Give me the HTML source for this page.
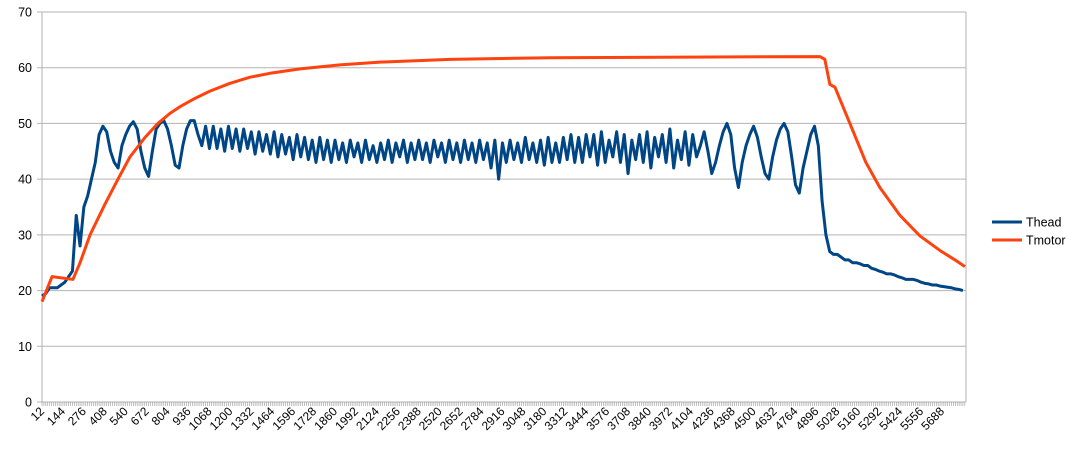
<!DOCTYPE html>
<html><head><meta charset="utf-8"><style>
html,body{margin:0;padding:0;background:#fff;}
svg{display:block;font-family:"Liberation Sans",sans-serif;}
</style></head><body>
<svg id="chart" width="1073" height="449" viewBox="0 0 1073 449">
<g id="grid"></g>
<g id="yaxis"></g>
<g id="xaxis"></g>
<g id="series"></g>
<g id="legend">
  <g>
    <line x1="992" y1="222" x2="1022" y2="222" stroke="#004586" stroke-width="3"/>
    <text x="1026" y="226.5" font-size="12.5" fill="#000">Thead</text>
  </g>
  <g>
    <line x1="992" y1="240" x2="1022" y2="240" stroke="#ff420e" stroke-width="3"/>
    <text x="1026" y="244.5" font-size="12.5" fill="#000">Tmotor</text>
  </g>
</g>
</svg>
<script>
const yTicks = [0,10,20,30,40,50,60,70];
const xTickLabels = [12,144,276,408,540,672,804,936,1068,1200,1332,1464,1596,1728,1860,1992,2124,2256,2388,2520,2652,2784,2916,3048,3180,3312,3444,3576,3708,3840,3972,4104,4236,4368,4500,4632,4764,4896,5028,5160,5292,5424,5556,5688];
const theadStart = 12;
const theadStep = 24;
const theadValues = [19,19.5,20.5,20.5,20.5,21,21.5,22.5,23.5,33.5,28,35,37,40,43,48,49.5,48.5,45,43,42,46,48,49.5,50.3,49,45,42,40.5,45,49,50,50.5,49,46,42.5,42,46,49,50.5,50.5,48,
46,49.5,45.5,49.5,45.5,49,45,49.5,45.5,49,45,49,45.5,48.5,44.5,48.5,45,48,44.5,48.5,44,48,44.5,47.5,43.5,48,44,47.5,43.5,47,43,47.5,43.5,47,43,
47,43.5,46.5,43,47,44,46.5,43,47,43.5,46,43,46.5,43.5,47,43,46.5,44,47,43,46.5,43.5,47,43.5,46.5,43,47,44,46.5,43,47,43.5,46.5,43,47,43.5,46.5,43,47,43.5,46.5,42,47,40,46.5,43,47,43.5,46.5,43,47.5,43.5,46.5,43,47,42.5,47.5,43,46.5,43,47.5,43.5,48,43,47.5,43,48,
44,48,42.5,48.5,43,47,44,48.5,43,48,41,47,43.5,48,43,48.5,42,47.5,44,48,43,49,42,47,43.5,48.5,42.5,48,44,46,
48.5,45,41,43,46,48.5,50,48,42,38.5,43,46,48,49.5,47.5,44,41,40,44,47,49,50,48.5,44,39,37.5,42,45,48,49.5,46,36,30,27,26.5,26.5,
26,25.5,25.5,25,25,24.8,24.5,24.5,24,23.8,23.5,23.3,23,23,22.8,22.5,22.3,22,22,22,21.8,21.5,21.3,21.2,21,21,20.8,20.7,20.6,20.5,20.3,20.2,20];
const tmotorTimes = [12,75,207,252,315,409,491,567,662,743,819,882,977,1071,1198,1324,1450,1639,1891,2143,2585,3215,4918,4949,4981,5013,5107,5208,5296,5423,5549,5675,5770,5833];
const tmotorValues = [18,22.5,22,25,30,35.5,40,44,47.5,50,51.8,53,54.5,55.8,57.2,58.3,59,59.8,60.5,61,61.5,61.8,62,61.5,57,56.5,50,43,38.5,33.5,29.8,27.2,25.5,24.3];

const NS="http://www.w3.org/2000/svg";
const X0=42,X1=966,Y0=402,Y1=12;
const pxPerUnit=20.93/132;
function xs(t){return X0+(t-12)*pxPerUnit;}
function ys(v){return Y0-(v/70)*(Y0-Y1);}
function mk(tag,attrs,parent){const e=document.createElementNS(NS,tag);for(const k in attrs)e.setAttribute(k,attrs[k]);parent.appendChild(e);return e;}
const grid=document.getElementById('grid'),yax=document.getElementById('yaxis'),xax=document.getElementById('xaxis'),ser=document.getElementById('series');
yTicks.forEach(v=>{
  const l=mk('line',{x1:X0-5,x2:X1,y1:ys(v),y2:ys(v),stroke:'#b3b3b3','stroke-width':1},grid);
  
  
  const t=mk('text',{x:32,y:ys(v)+4.5,'text-anchor':'end','font-size':12.5,fill:'#000'},yax);
  t.textContent=v;
  
  
});
mk('line',{x1:X0,x2:X0,y1:Y1,y2:Y0,stroke:'#b3b3b3','stroke-width':1},yax);
mk('line',{x1:X1,x2:X1,y1:Y1,y2:Y0,stroke:'#b3b3b3','stroke-width':1},grid);
for(let t=12;t<=5832;t+=12){mk('line',{x1:xs(t),x2:xs(t),y1:Y0,y2:Y0+4,stroke:'#999','stroke-width':0.6},xax);}
xTickLabels.forEach(v=>{
  const x=xs(v);
  const t=mk('text',{x:x+3,y:Y0+10,'text-anchor':'end','font-size':12,fill:'#000',transform:`rotate(-45 ${x+3} ${Y0+10})`},xax);
  t.textContent=v;
  
  
});
let d='';
theadValues.forEach((v,i)=>{d+=(i?'L':'M')+xs(theadStart+i*theadStep).toFixed(2)+','+ys(v).toFixed(2);});
const p1=mk('path',{d:d,fill:'none',stroke:'#004586','stroke-width':3,'stroke-linejoin':'round'},ser);


let d2='';
tmotorValues.forEach((v,i)=>{d2+=(i?'L':'M')+xs(tmotorTimes[i]).toFixed(2)+','+ys(v).toFixed(2);});
const p2=mk('path',{d:d2,fill:'none',stroke:'#ff420e','stroke-width':3,'stroke-linejoin':'round'},ser);


</script>
</body></html>
